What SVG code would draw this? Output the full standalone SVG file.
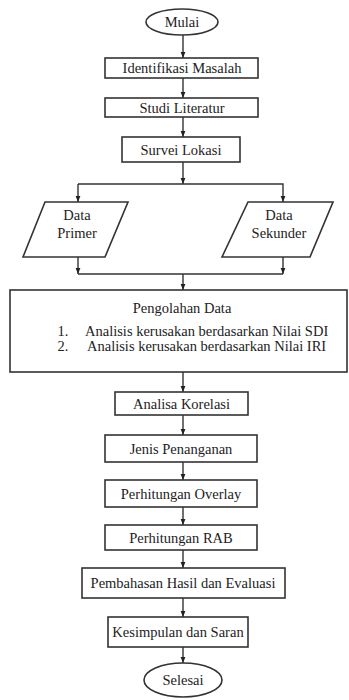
<svg xmlns="http://www.w3.org/2000/svg" width="349" height="700" viewBox="0 0 349 700" font-family="Liberation Serif, Times New Roman, serif">
<style>
.s{fill:#fff;stroke:#333;stroke-width:1.6}
.t{font-size:14.5px;fill:#222;text-anchor:middle;dominant-baseline:central}
.c{fill:none;stroke:#333;stroke-width:1.4}
</style>
<defs>
<marker id="a" viewBox="0 0 10 10" refX="10" refY="5" markerWidth="6" markerHeight="6" orient="auto" markerUnits="userSpaceOnUse">
<path d="M0,1 L10,5 L0,9 Z" fill="#222"/>
</marker>
</defs>
<g id="connectors">
<path class="c" d="M183,35 V58" marker-end="url(#a)"/>
<path class="c" d="M183,78 V98" marker-end="url(#a)"/>
<path class="c" d="M183,117 V137" marker-end="url(#a)"/>
<path class="c" d="M183,162 V184" marker-end="url(#a)"/>
<path class="c" d="M78,184 H283 V202" marker-end="url(#a)"/>
<path class="c" d="M78,184 V202" marker-end="url(#a)"/>
<path class="c" d="M78,257 V274" marker-end="url(#a)"/>
<path class="c" d="M283,257 V274" marker-end="url(#a)"/>
<path class="c" d="M78,274 H283"/>
<path class="c" d="M183,274 V290" marker-end="url(#a)"/>
<path class="c" d="M183,372 V392" marker-end="url(#a)"/>
<path class="c" d="M183,415 V435" marker-end="url(#a)"/>
<path class="c" d="M183,462 V480" marker-end="url(#a)"/>
<path class="c" d="M183,507 V525" marker-end="url(#a)"/>
<path class="c" d="M183,550 V568" marker-end="url(#a)"/>
<path class="c" d="M183,598 V617" marker-end="url(#a)"/>
<path class="c" d="M183,647 V663" marker-end="url(#a)"/>
</g>
<g id="mulai"><ellipse class="s" cx="182" cy="22" rx="36" ry="13"/><text class="t" x="182" y="22">Mulai</text></g>
<g id="identifikasi"><rect class="s" x="105" y="58" width="153" height="20"/><text class="t" x="182" y="68">Identifikasi Masalah</text></g>
<g id="studi"><rect class="s" x="105" y="98" width="153" height="19"/><text class="t" x="182" y="107.5">Studi Literatur</text></g>
<g id="survei"><rect class="s" x="122" y="137" width="118" height="25"/><text class="t" x="181" y="149.5">Survei Lokasi</text></g>
<g id="primer"><polygon class="s" points="45,202 128,202 105,257 23,257"/><text class="t" x="77" y="215">Data</text><text class="t" x="77" y="233">Primer</text></g>
<g id="sekunder"><polygon class="s" points="248,202 333,202 310,257 222,257"/><text class="t" x="279" y="215">Data</text><text class="t" x="279" y="233">Sekunder</text></g>
<g id="pengolahan"><rect class="s" x="10" y="290" width="337" height="82"/>
<text class="t" x="182" y="308">Pengolahan Data</text>
<text class="t" x="63" y="331">1.</text><text class="t" x="85" y="331" style="text-anchor:start">Analisis kerusakan berdasarkan Nilai SDI</text>
<text class="t" x="63" y="346">2.</text><text class="t" x="87" y="346" style="text-anchor:start">Analisis kerusakan berdasarkan Nilai IRI</text></g>
<g id="korelasi"><rect class="s" x="115" y="392" width="133" height="23"/><text class="t" x="181.5" y="403.5">Analisa Korelasi</text></g>
<g id="jenis"><rect class="s" x="105" y="435" width="152" height="27"/><text class="t" x="181" y="448.5">Jenis Penanganan</text></g>
<g id="overlay"><rect class="s" x="105" y="480" width="152" height="27"/><text class="t" x="181" y="493.5">Perhitungan Overlay</text></g>
<g id="rab"><rect class="s" x="105" y="525" width="152" height="25"/><text class="t" x="181" y="537.5">Perhitungan RAB</text></g>
<g id="pembahasan"><rect class="s" x="82" y="568" width="203" height="30"/><text class="t" x="183" y="583">Pembahasan Hasil dan Evaluasi</text></g>
<g id="kesimpulan"><rect class="s" x="108" y="617" width="140" height="30"/><text class="t" x="178" y="632">Kesimpulan dan Saran</text></g>
<g id="selesai"><ellipse class="s" cx="183" cy="680" rx="39" ry="17"/><text class="t" x="183" y="680">Selesai</text></g>
</svg>
